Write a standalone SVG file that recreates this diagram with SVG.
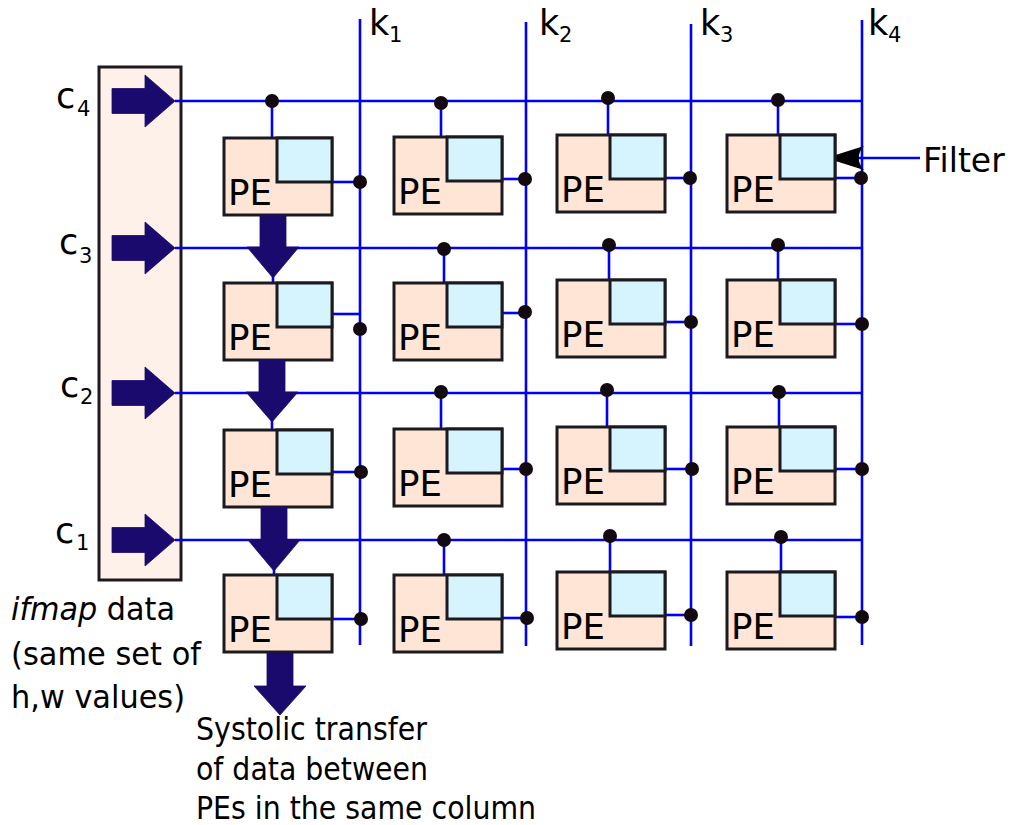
<svg xmlns="http://www.w3.org/2000/svg" xmlns:xlink="http://www.w3.org/1999/xlink" width="1014" height="825" viewBox="0 0 1014 825">
<style>
.bl{stroke:#0000f5;stroke-width:2.6;fill:none}
.pe{fill:#ffe5d5;stroke:#1c1a1f;stroke-width:3}
.fi{fill:#d5f4fd;stroke:#1c1a1f;stroke-width:3}
.dot{fill:#120a10}
.arr{fill:#1b0a6e;stroke:#1b0a6e;stroke-width:0.8}
.t{font-family:"DejaVu Sans","Liberation Sans",sans-serif;fill:#000}
.pet{font-family:"DejaVu Sans","Liberation Sans",sans-serif;font-size:35px;fill:#000}
</style>
<defs>
<path id="inArrow" d="M112,-12.5 H145 V-26 L175,0 L145,26 V12.5 H112 Z"/>
<g id="peShape">
<rect class="pe" x="0" y="0" width="108" height="77"/>
<rect class="fi" x="53" y="0" width="55" height="44"/>
<text class="pet" x="4" y="67" textLength="44" lengthAdjust="spacingAndGlyphs">PE</text>
</g>
</defs>

<g id="ifmap-source">
<rect x="99" y="67" width="82" height="513" fill="#fdf1e9" stroke="#1c1a1f" stroke-width="3"/>
</g>

<g id="connectors">
<line class="bl" x1="175" y1="101" x2="862" y2="101"/>
<line class="bl" x1="175" y1="248" x2="862" y2="248"/>
<line class="bl" x1="175" y1="393" x2="862" y2="393"/>
<line class="bl" x1="175" y1="540" x2="862" y2="540"/>
<line class="bl" x1="360" y1="19" x2="360" y2="645"/>
<line class="bl" x1="526" y1="22" x2="526" y2="646"/>
<line class="bl" x1="691" y1="24" x2="691" y2="646"/>
<line class="bl" x1="862" y1="20" x2="862" y2="645"/>
<line class="bl" x1="272" y1="101" x2="272" y2="138"/>
<line class="bl" x1="441" y1="103" x2="441" y2="137"/>
<line class="bl" x1="608" y1="98" x2="608" y2="135"/>
<line class="bl" x1="778" y1="100" x2="778" y2="135"/>
<line class="bl" x1="444" y1="249" x2="444" y2="283"/>
<line class="bl" x1="609" y1="245" x2="609" y2="280"/>
<line class="bl" x1="778" y1="245" x2="778" y2="280"/>
<line class="bl" x1="441" y1="392" x2="441" y2="429"/>
<line class="bl" x1="607" y1="390" x2="607" y2="427"/>
<line class="bl" x1="779" y1="392" x2="779" y2="427"/>
<line class="bl" x1="444" y1="540" x2="444" y2="575"/>
<line class="bl" x1="610" y1="536" x2="610" y2="572"/>
<line class="bl" x1="781" y1="537" x2="781" y2="572"/>
<line class="bl" x1="273" y1="276" x2="273" y2="283"/>
<line class="bl" x1="272" y1="420" x2="272" y2="430"/>
<line class="bl" x1="274" y1="569" x2="274" y2="575"/>
<line class="bl" x1="332" y1="182" x2="360" y2="182"/>
<line class="bl" x1="332" y1="314" x2="360" y2="314"/>
<line class="bl" x1="332" y1="472" x2="361" y2="472"/>
<line class="bl" x1="332" y1="619" x2="361" y2="619"/>
<line class="bl" x1="502" y1="179" x2="526" y2="179"/>
<line class="bl" x1="502" y1="313" x2="526" y2="313"/>
<line class="bl" x1="502" y1="469" x2="526" y2="469"/>
<line class="bl" x1="502" y1="618" x2="526" y2="618"/>
<line class="bl" x1="665" y1="178" x2="691" y2="178"/>
<line class="bl" x1="665" y1="322" x2="691" y2="322"/>
<line class="bl" x1="665" y1="469" x2="691" y2="469"/>
<line class="bl" x1="665" y1="615" x2="691" y2="615"/>
<line class="bl" x1="835" y1="178" x2="862" y2="178"/>
<line class="bl" x1="835" y1="324" x2="862" y2="324"/>
<line class="bl" x1="835" y1="469" x2="862" y2="469"/>
<line class="bl" x1="835" y1="617" x2="862" y2="617"/>
<line class="bl" x1="920" y1="158" x2="850" y2="158"/>
<path d="M826,158 L864,146 C857,153 857,163 864,170 Z" fill="#000"/>
</g>

<g id="pe-r1c1" transform="translate(224,138)"><use xlink:href="#peShape"/></g>
<g id="pe-r1c2" transform="translate(394,137)"><use xlink:href="#peShape"/></g>
<g id="pe-r1c3" transform="translate(557,135)"><use xlink:href="#peShape"/></g>
<g id="pe-r1c4" transform="translate(727,135)"><use xlink:href="#peShape"/></g>
<g id="pe-r2c1" transform="translate(224,283)"><use xlink:href="#peShape"/></g>
<g id="pe-r2c2" transform="translate(394,283)"><use xlink:href="#peShape"/></g>
<g id="pe-r2c3" transform="translate(557,280)"><use xlink:href="#peShape"/></g>
<g id="pe-r2c4" transform="translate(727,280)"><use xlink:href="#peShape"/></g>
<g id="pe-r3c1" transform="translate(224,430)"><use xlink:href="#peShape"/></g>
<g id="pe-r3c2" transform="translate(394,429)"><use xlink:href="#peShape"/></g>
<g id="pe-r3c3" transform="translate(557,427)"><use xlink:href="#peShape"/></g>
<g id="pe-r3c4" transform="translate(727,427)"><use xlink:href="#peShape"/></g>
<g id="pe-r4c1" transform="translate(224,575)"><use xlink:href="#peShape"/></g>
<g id="pe-r4c2" transform="translate(394,575)"><use xlink:href="#peShape"/></g>
<g id="pe-r4c3" transform="translate(557,572)"><use xlink:href="#peShape"/></g>
<g id="pe-r4c4" transform="translate(727,572)"><use xlink:href="#peShape"/></g>

<g id="junctions">
<circle class="dot" cx="272" cy="101" r="7"/>
<circle class="dot" cx="441" cy="103" r="7"/>
<circle class="dot" cx="608" cy="98" r="7"/>
<circle class="dot" cx="778" cy="100" r="7"/>
<circle class="dot" cx="444" cy="249" r="7"/>
<circle class="dot" cx="609" cy="245" r="7"/>
<circle class="dot" cx="778" cy="245" r="7"/>
<circle class="dot" cx="441" cy="392" r="7"/>
<circle class="dot" cx="607" cy="390" r="7"/>
<circle class="dot" cx="779" cy="392" r="7"/>
<circle class="dot" cx="444" cy="540" r="7"/>
<circle class="dot" cx="610" cy="536" r="7"/>
<circle class="dot" cx="781" cy="537" r="7"/>
<circle class="dot" cx="360" cy="182" r="7"/>
<circle class="dot" cx="360" cy="329" r="7"/>
<circle class="dot" cx="361" cy="472" r="7"/>
<circle class="dot" cx="361" cy="619" r="7"/>
<circle class="dot" cx="525" cy="179" r="7"/>
<circle class="dot" cx="525" cy="312" r="7"/>
<circle class="dot" cx="526" cy="469" r="7"/>
<circle class="dot" cx="527" cy="618" r="7"/>
<circle class="dot" cx="690" cy="178" r="7"/>
<circle class="dot" cx="691" cy="322" r="7"/>
<circle class="dot" cx="692" cy="469" r="7"/>
<circle class="dot" cx="691" cy="615" r="7"/>
<circle class="dot" cx="861" cy="178" r="7"/>
<circle class="dot" cx="862" cy="324" r="7"/>
<circle class="dot" cx="862" cy="469" r="7"/>
<circle class="dot" cx="862" cy="617" r="7"/>
</g>

<g id="input-arrows">
<use class="arr" xlink:href="#inArrow" transform="translate(0,101)"/>
<use class="arr" xlink:href="#inArrow" transform="translate(0,248)"/>
<use class="arr" xlink:href="#inArrow" transform="translate(0,393)"/>
<use class="arr" xlink:href="#inArrow" transform="translate(0,540)"/>
</g>

<g id="systolic-arrows">
<path class="arr" d="M260,215 H286 V247 H299 L273,278 L247,247 H260 Z"/>
<path class="arr" d="M259,360 H285 V392 H298 L272,422 L246,392 H259 Z"/>
<path class="arr" d="M261,507 H287 V540 H300 L274,571 L248,540 H261 Z"/>
<path class="arr" d="M267,653 H293 V686 H306 L280,715 L254,686 H267 Z"/>
</g>

<g id="labels" class="t">
<text class="t" x="56" y="108" font-size="35">c</text><text class="t" x="77" y="116" font-size="21">4</text>
<text class="t" x="59" y="254" font-size="35">c</text><text class="t" x="79" y="263" font-size="21">3</text>
<text class="t" x="60" y="397" font-size="35">c</text><text class="t" x="80" y="404" font-size="21">2</text>
<text class="t" x="55" y="543" font-size="35">c</text><text class="t" x="76" y="550" font-size="21">1</text>
<text class="t" x="369" y="35" font-size="35">k</text><text class="t" x="389" y="42" font-size="21">1</text>
<text class="t" x="539" y="35" font-size="35">k</text><text class="t" x="559" y="42" font-size="21">2</text>
<text class="t" x="700" y="35" font-size="35">k</text><text class="t" x="720" y="42" font-size="21">3</text>
<text class="t" x="868" y="35" font-size="35">k</text><text class="t" x="888" y="42" font-size="21">4</text>
<text class="t" x="923" y="172" font-size="33">Filter</text>
<text class="t" x="11" y="620" font-size="32" textLength="164" lengthAdjust="spacingAndGlyphs"><tspan font-style="italic">ifmap</tspan> data</text>
<text class="t" x="11" y="665" font-size="32" textLength="190" lengthAdjust="spacingAndGlyphs">(same set of</text>
<text class="t" x="11" y="708" font-size="32" textLength="174" lengthAdjust="spacingAndGlyphs">h,w values)</text>
<text class="t" x="196" y="740" font-size="32" textLength="231" lengthAdjust="spacingAndGlyphs">Systolic transfer</text>
<text class="t" x="196" y="780" font-size="32" textLength="232" lengthAdjust="spacingAndGlyphs">of data between</text>
<text class="t" x="196" y="819" font-size="32" textLength="340" lengthAdjust="spacingAndGlyphs">PEs in the same column</text>
</g>
</svg>
